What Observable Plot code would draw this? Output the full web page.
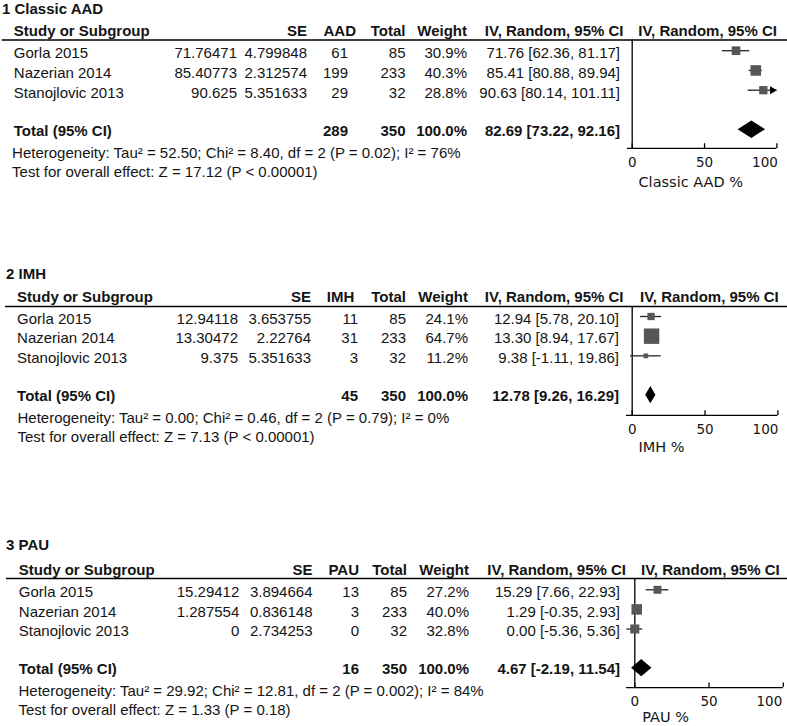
<!DOCTYPE html>
<html>
<head>
<meta charset="utf-8">
<script src="https://cdn.jsdelivr.net/npm/d3@7"></script>
<script src="https://cdn.jsdelivr.net/npm/@observablehq/plot@0.6"></script>
<style>
html, body { margin: 0; padding: 0; background: #fff; }
#chart { width: 787px; }
#chart svg { display: block; }
</style>
</head>
<body>
<div id="chart"></div>
<script>
// ---------------- DATA ----------------
const panelTitles = ["1 Classic AAD", "2 IMH", "3 PAU"];
const eventLabels = ["AAD", "IMH", "PAU"];
const axisLabels = ["Classic AAD %", "IMH %", "PAU %"];
const studies = ["Gorla 2015", "Nazerian 2014", "Stanojlovic 2013"];
const totals = [85, 233, 32];
const estimates = [[71.76471, 85.40773, 90.625], [12.94118, 13.30472, 9.375], [15.29412, 1.287554, 0]];
const standardErrors = [[4.799848, 2.312574, 5.351633], [3.653755, 2.22764, 5.351633], [3.894664, 0.836148, 2.734253]];
const events = [[61, 199, 29], [11, 31, 3], [13, 3, 0]];
const weights = [[30.9, 40.3, 28.8], [24.1, 64.7, 11.2], [27.2, 40.0, 32.8]];
const ciLower = [[62.36, 80.88, 80.14], [5.78, 8.94, -1.11], [7.66, -0.35, -5.36]];
const ciUpper = [[81.17, 89.94, 101.11], [20.10, 17.67, 19.86], [22.93, 2.93, 5.36]];
const pooledEstimate = [82.69, 12.78, 4.67];
const pooledLower = [73.22, 9.26, -2.19];
const pooledUpper = [92.16, 16.29, 11.54];
const eventTotals = [289, 45, 16];
const heterogeneity = [
  "Heterogeneity: Tau² = 52.50; Chi² = 8.40, df = 2 (P = 0.02); I² = 76%",
  "Heterogeneity: Tau² = 0.00; Chi² = 0.46, df = 2 (P = 0.79); I² = 0%",
  "Heterogeneity: Tau² = 29.92; Chi² = 12.81, df = 2 (P = 0.002); I² = 84%"
];
const overallEffect = [
  "Test for overall effect: Z = 17.12 (P < 0.00001)",
  "Test for overall effect: Z = 7.13 (P < 0.00001)",
  "Test for overall effect: Z = 1.33 (P = 0.18)"
];
const axisTicks = [0, 50, 100];
const totalLabel = "Total (95% CI)";
const methodLabel = "IV, Random, 95% CI";

// ---------------- LAYOUT ----------------
const layout = [
  {height: 200, rows: [50.2, 129.2], xRange: [631.7, 776.4], axisFrom: -3.3, lineInset: 1.7,
   titleX: 1.5, nameX: 13.3, hetX: 11.6, estX: 236.5, seX: 306.5, evHeadX: 355.5, evX: 347.5, totX: 405, wX: 466.5, ciX: 619.5, ciHeadX: 623, fHeadX: 637.8,
   titleRow: -1.25, headLine: 0.46, axisRow: 5.95, labelX: 6.3, labelDy: 33.5, lastTickDx: 1},
  {height: 265, rows: [116, 194.7], xRange: [631.7, 777.4], axisFrom: -3.9, lineInset: 5,
   titleX: 5.5, nameX: 16.6, hetX: 17, estX: 237.5, seX: 310.5, evHeadX: 353.8, evX: 357.5, totX: 405.5, wX: 467.5, ciX: 618.5, ciHeadX: 623, fHeadX: 639.5,
   titleRow: -1.27, headLine: 0.49, axisRow: 6.03, labelX: 6.3, labelDy: 32, lastTickDx: 0.5},
  {height: 261, rows: [124.3, 202.7], xRange: [634.3, 782.8], axisFrom: -5.6, lineInset: 6,
   titleX: 5.5, nameX: 18.3, hetX: 18, estX: 238.8, seX: 312, evHeadX: 358.5, evX: 358.5, totX: 406.5, wX: 468.5, ciX: 619.5, ciHeadX: 625.5, fHeadX: 640.5,
   titleRow: -1.39, headLine: 0.42, axisRow: 5.99, labelX: 7.4, labelDy: 29.5, lastTickDx: -1}
];
const HEADER_ROW = -0.12, TOTAL_ROW = 5, TOTAL_TEXT_ROW = 4.94, HET_ROW = 6.04, TEST_ROW = 7.0;
const DIAMOND_HALF = 0.44;
const INK = "#141414";
const SQUARE = "#575757";
const AXIS_FONT = "'DejaVu Sans', Verdana, sans-serif";

function panel(p) {
  const L = layout[p];
  const rows = studies.map((name, i) => ({
    name, est: estimates[p][i], se: standardErrors[p][i], ev: events[p][i], n: totals[i],
    w: weights[p][i], lo: ciLower[p][i], hi: ciUpper[p][i], row: i + 1
  }));
  const xMax = axisTicks[axisTicks.length - 1];
  const pooled = {est: pooledEstimate[p], lo: pooledLower[p], hi: pooledUpper[p]};
  const diamond = [
    {x: pooled.lo, y1: TOTAL_ROW, y2: TOTAL_ROW},
    {x: pooled.est, y1: TOTAL_ROW - DIAMOND_HALF, y2: TOTAL_ROW + DIAMOND_HALF},
    {x: pooled.hi, y1: TOTAL_ROW, y2: TOTAL_ROW}
  ];
  const ci = (e, l, h) => `${e.toFixed(2)} [${l.toFixed(2)}, ${h.toFixed(2)}]`;
  const one = [0];
  const txt = (data, text, x, y, anchor, o = {}) => Plot.text(data, {
    text, y, frameAnchor: "left", dx: x, dy: 2.5, textAnchor: anchor,
    fill: INK, fontSize: 15, ...o
  });
  const B = {fontWeight: "bold"};
  const hr = () => HEADER_ROW;
  const tr = () => TOTAL_TEXT_ROW;

  return Plot.plot({
    width: 787,
    height: L.height,
    margin: 0,
    x: {domain: [0, xMax], range: L.xRange, axis: null},
    y: {domain: [1, TOTAL_ROW], range: L.rows, axis: null},
    r: {type: "linear", domain: [0, 100], range: [1.41, 12.69]},
    style: {fontFamily: "'Liberation Sans', Arial, sans-serif", fontSize: "15px", background: "#fff", overflow: "visible"},
    marks: [
      // title & header
      txt(one, () => panelTitles[p], L.titleX, () => L.titleRow, "start", B),
      txt(one, () => "Study or Subgroup", L.nameX, hr, "start", B),
      txt(one, () => "SE", L.seX, hr, "end", B),
      txt(one, () => eventLabels[p], L.evHeadX, hr, "end", B),
      txt(one, () => "Total", L.totX, hr, "end", B),
      txt(one, () => "Weight", L.wX, hr, "end", B),
      txt(one, () => methodLabel, L.ciHeadX, hr, "end", B),
      txt(one, () => methodLabel, L.fHeadX, hr, "start", B),
      Plot.ruleY([L.headLine], {y: d => d, insetLeft: L.lineInset, stroke: "#000", strokeWidth: 1.5}),
      // study rows
      txt(rows, "name", L.nameX, "row", "start"),
      txt(rows, d => String(d.est), L.estX, "row", "end"),
      txt(rows, d => String(d.se), L.seX, "row", "end"),
      txt(rows, d => String(d.ev), L.evX, "row", "end"),
      txt(rows, d => String(d.n), L.totX, "row", "end"),
      txt(rows, d => d.w.toFixed(1) + "%", L.wX, "row", "end"),
      txt(rows, d => ci(d.est, d.lo, d.hi), L.ciX, "row", "end"),
      // total row
      txt(one, () => totalLabel, L.nameX, tr, "start", B),
      txt(one, () => String(eventTotals[p]), L.evX, tr, "end", B),
      txt(one, () => String(d3.sum(totals)), L.totX, tr, "end", B),
      txt(one, () => d3.sum(weights[p]).toFixed(1) + "%", L.wX, tr, "end", B),
      txt(one, () => ci(pooled.est, pooled.lo, pooled.hi), L.ciX, tr, "end", B),
      txt(one, () => heterogeneity[p], L.hetX, () => HET_ROW, "start"),
      txt(one, () => overallEffect[p], L.hetX, () => TEST_ROW, "start"),
      // forest plot axis
      Plot.ruleX([0], {x: d => d, y1: () => L.headLine, y2: () => L.axisRow, stroke: "#000", strokeWidth: 1.3}),
      Plot.ruleY([L.axisRow], {y: d => d, x1: () => L.axisFrom, x2: () => xMax, stroke: "#000", strokeWidth: 1.3}),
      Plot.ruleX(axisTicks, {x: d => d, y1: () => L.axisRow, y2: () => L.axisRow - 0.24, stroke: "#000", strokeWidth: 1.3}),
      Plot.text(axisTicks.slice(0, -1), {x: d => d, y: () => L.axisRow, dy: 14, text: d => String(d), fill: INK,
        fontFamily: AXIS_FONT, fontSize: 13.5}),
      Plot.text(axisTicks.slice(-1), {x: d => d, y: () => L.axisRow, dy: 14, dx: L.lastTickDx, text: d => String(d), fill: INK,
        textAnchor: "end", fontFamily: AXIS_FONT, fontSize: 13.5}),
      Plot.text(one, {x: () => 0, y: () => L.axisRow, dx: L.labelX, dy: L.labelDy, text: () => axisLabels[p],
        textAnchor: "start", fill: INK, fontFamily: AXIS_FONT, fontSize: 14.5}),
      // studies and pooled estimate
      Plot.ruleY(rows, {y: "row", x1: "lo", x2: d => Math.min(d.hi, xMax), stroke: "#222", strokeWidth: 1.3}),
      Plot.dot(rows, {x: "est", y: "row", r: "w", symbol: "square", fill: SQUARE}),
      Plot.dot(rows.filter(d => d.hi > xMax), {x: () => xMax, y: "row", symbol: "triangle", rotate: 90,
        r: 3, fill: "#000", dx: -4.5}),
      Plot.areaY(diamond, {x: "x", y1: "y1", y2: "y2", fill: "#000"})
    ]
  });
}

const chart = document.getElementById("chart");
for (let p = 0; p < panelTitles.length; p++) chart.appendChild(panel(p));
</script>
</body>
</html>
